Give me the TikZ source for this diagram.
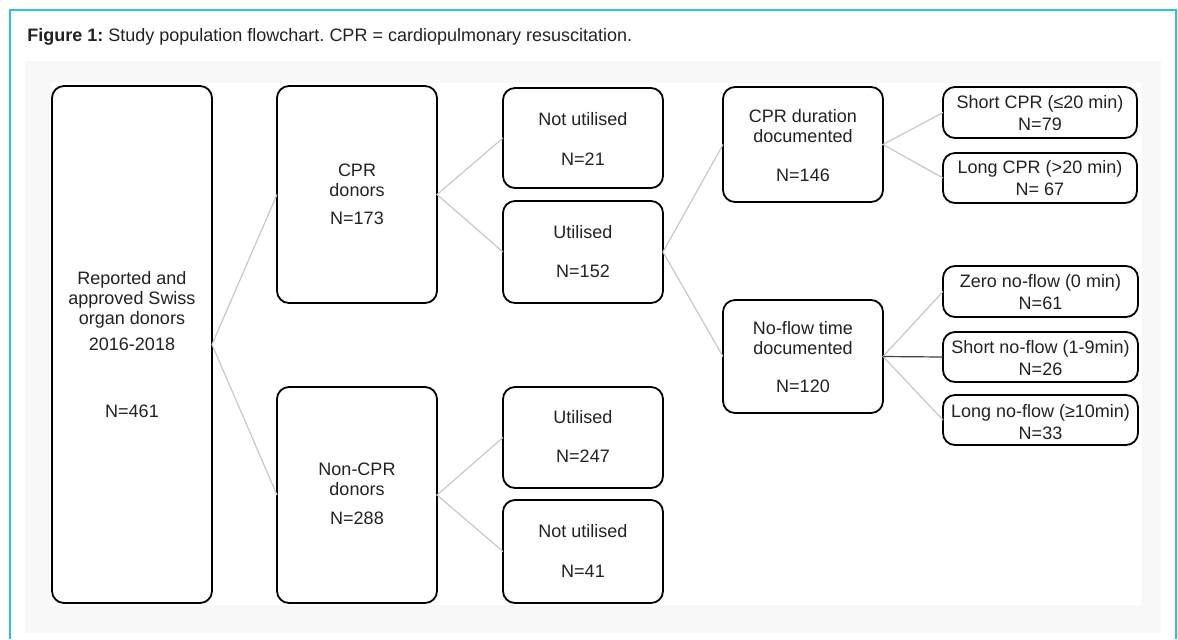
\documentclass[tikz,border=0pt]{standalone}
\usepackage{fontspec}
\setmainfont{Liberation Sans}
\frenchspacing

\definecolor{framecyan}{RGB}{41,196,214}
\definecolor{panelgrey}{RGB}{248,248,248}
\definecolor{linkgrey}{RGB}{200,200,200}
\definecolor{inkgrey}{RGB}{34,34,34}

% box content: width, height, space above first line, text
\newcommand{\boxtext}[4]{\parbox[c][#2][t]{#1}{\centering\vspace*{#3}#4}}

\begin{document}
\begin{tikzpicture}[x=0.5pt,y=-0.5pt,
	font=\fontsize{9}{10}\selectfont, text=inkgrey,
	flowbox/.style={draw=black, line width=0.9pt, rounded corners=6pt,
		fill=white, inner sep=0pt, outer sep=0pt},
	link/.style={draw=linkgrey, line width=0.6pt}]

	% page size
	\useasboundingbox (0,0) rectangle (1178,639);

	% frame and panel
	\fill[white] (0,0) rectangle (1178,639);
	\fill[panelgrey] (25,61) rectangle (1161,633);
	\fill[white] (50,83) rectangle (1142,605);
	\draw[framecyan, line width=1pt] (10,639) -- (10,10) -- (1176,10) -- (1176,639);

	% caption
	\node[anchor=base west, inner sep=0pt] (caption) at (27,41)
		{\textbf{Figure 1:} Study population flowchart. CPR = cardiopulmonary resuscitation.};

	% all donors
	\node[flowbox] (total) at (132,344.5)
		{\boxtext{80pt}{258.5pt}{92.5pt}{Reported and\\approved Swiss\\organ donors\\[3pt]2016-2018\\[23.5pt]N=461}};

	% CPR / non-CPR
	\node[flowbox] (cpr) at (357,194.5)
		{\boxtext{80pt}{108.5pt}{39pt}{CPR\\donors\\[4pt]N=173}};
	\node[flowbox] (noncpr) at (357,495)
		{\boxtext{80pt}{108pt}{38pt}{Non-CPR\\donors\\[4.5pt]N=288}};

	% utilisation
	\node[flowbox] (notutilA) at (583,138)
		{\boxtext{80pt}{50pt}{12pt}{Not utilised\\[10pt]N=21}};
	\node[flowbox] (utilA) at (583,252)
		{\boxtext{80pt}{51pt}{12pt}{Utilised\\[9.5pt]N=152}};
	\node[flowbox] (utilB) at (583,437.5)
		{\boxtext{80pt}{50.5pt}{11.5pt}{Utilised\\[9.5pt]N=247}};
	\node[flowbox] (notutilB) at (583,551.5)
		{\boxtext{80pt}{51.5pt}{12pt}{Not utilised\\[10pt]N=41}};

	% documentation
	\node[flowbox] (cprdur) at (803,144.5)
		{\boxtext{80pt}{57.5pt}{11pt}{CPR duration\\documented\\[9.5pt]N=146}};
	\node[flowbox] (noflow) at (803,356.5)
		{\boxtext{80pt}{56.5pt}{10.5pt}{No-flow time\\documented\\[9pt]N=120}};

	% CPR duration groups
	\node[flowbox] (shortcpr) at (1040,112.5)
		{\boxtext{97pt}{25.5pt}{4pt}{Short CPR (≤20 min)\\[1pt]N=79}};
	\node[flowbox] (longcpr) at (1040,178)
		{\boxtext{97pt}{25pt}{3.5pt}{Long CPR (>20 min)\\[1pt]N= 67}};

	% no-flow groups
	\node[flowbox] (zeroflow) at (1040.5,291.5)
		{\boxtext{97.5pt}{25.5pt}{4pt}{Zero no-flow (0 min)\\[1pt]N=61}};
	\node[flowbox] (shortflow) at (1040.5,357)
		{\boxtext{97.5pt}{25pt}{4pt}{Short no-flow (1-9min)\\[1pt]N=26}};
	\node[flowbox] (longflow) at (1040.5,420)
		{\boxtext{97.5pt}{25pt}{4.5pt}{Long no-flow (≥10min)\\[1pt]N=33}};

	% connectors
	\draw[link] (cpr.west) -- (total.east) -- (noncpr.west);
	\draw[link] (notutilA.west) -- (cpr.east) -- (utilA.west);
	\draw[link] (utilB.west) -- (noncpr.east) -- (notutilB.west);
	\draw[link] (cprdur.west) -- (utilA.east) -- (noflow.west);
	\draw[link] (shortcpr.west) -- (cprdur.east) -- (longcpr.west);
	\draw[link] (zeroflow.west) -- (noflow.east) -- (longflow.west);
	\draw[link, draw=black!75] (noflow.east) -- (shortflow.west);

\end{tikzpicture}
\end{document}
